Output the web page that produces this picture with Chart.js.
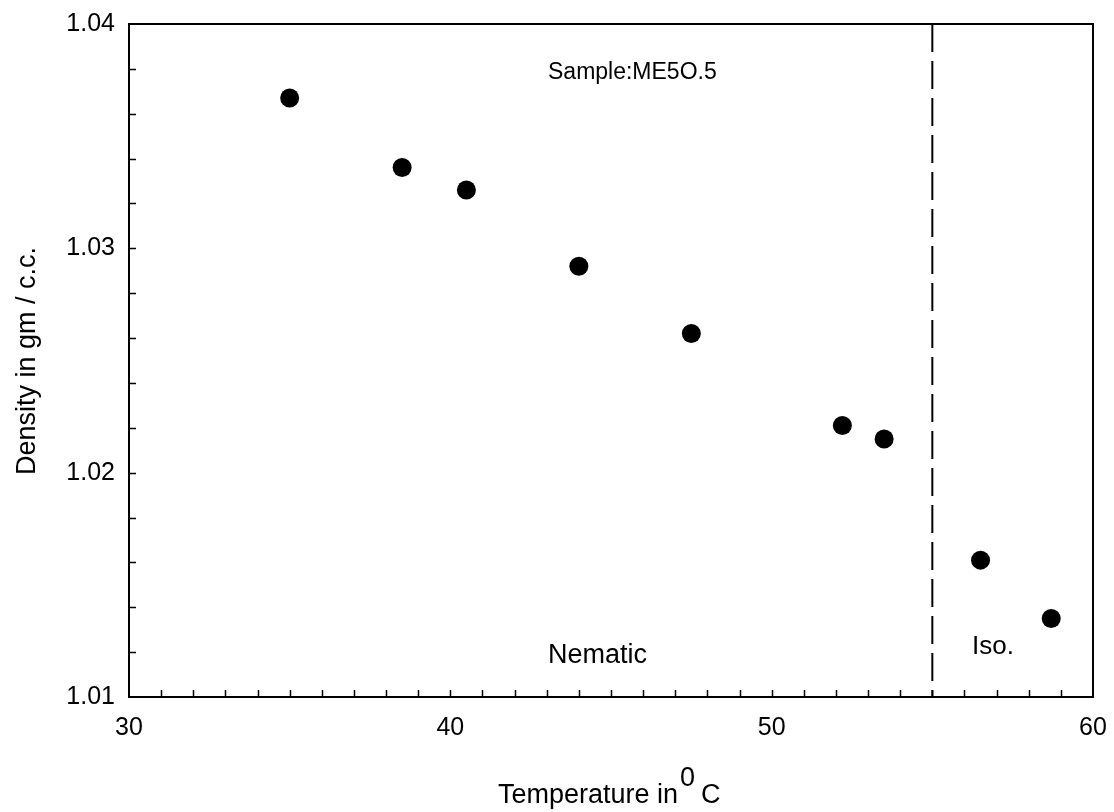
<!DOCTYPE html>
<html>
<head>
<meta charset="utf-8">
<script src="https://cdn.jsdelivr.net/npm/chart.js@4.4.1/dist/chart.umd.min.js"></script>
<style>
  html, body { margin: 0; padding: 0; background: #fff; }
  #wrap { width: 1114px; height: 812px; }
</style>
</head>
<body>
<div id="wrap"><canvas id="c" width="1114" height="812"></canvas></div>
<script>
// ---- data ----
const temperatures = [35.0, 38.5, 40.5, 44.0, 47.5, 52.2, 53.5, 56.5, 58.7];
const densities    = [1.0367, 1.0336, 1.0326, 1.0292, 1.0262, 1.0221, 1.0215, 1.0161, 1.0135];
const xTickValues  = [30, 40, 50, 60];
const yTickValues  = [1.01, 1.02, 1.03, 1.04];
const transitionTemp = 55;
const sampleLabel  = 'Sample:ME5O.5';
const phaseLabels  = ['Nematic', 'Iso.'];
const xTitle = 'Temperature in';
const xTitleSup = '0';
const xTitleUnit = 'C';
const yTitle = 'Density in gm / c.c.';

const FONT = '"Liberation Sans", Arial, sans-serif';

const points = temperatures.map((t, i) => ({ x: t, y: densities[i] }));

const decor = {
  id: 'decor',
  afterDatasetsDraw(chart) {
    const { ctx, chartArea: a, scales: { x, y } } = chart;
    ctx.save();
    // frame
    ctx.strokeStyle = '#000';
    ctx.lineWidth = 2;
    ctx.strokeRect(a.left, a.top, a.right - a.left, a.bottom - a.top);
    // inward ticks x (every 1)
    ctx.lineWidth = 1.5;
    ctx.beginPath();
    for (let v = 31; v < 60; v++) {
      const px = Math.round(x.getPixelForValue(v)) + 0.5;
      ctx.moveTo(px, a.bottom);
      ctx.lineTo(px, a.bottom - 7);
    }
    // inward ticks y (every 0.002)
    for (let k = 1; k < 15; k++) {
      const v = 1.01 + k * 0.002;
      const py = Math.round(y.getPixelForValue(v)) + 0.5;
      ctx.moveTo(a.left, py);
      ctx.lineTo(a.left + 7, py);
    }
    ctx.stroke();
    // dashed transition line
    const tx = x.getPixelForValue(transitionTemp);
    ctx.lineWidth = 2;
    ctx.setLineDash([28, 9]);
    ctx.beginPath();
    ctx.moveTo(tx, a.top);
    ctx.lineTo(tx, a.bottom);
    ctx.stroke();
    ctx.setLineDash([]);
    // annotations
    ctx.fillStyle = '#000';
    ctx.textBaseline = 'alphabetic';
    ctx.textAlign = 'left';
    ctx.font = '23px ' + FONT;
    ctx.fillText(sampleLabel, 548, 79);
    ctx.font = '27px ' + FONT;
    ctx.fillText(phaseLabels[0], 548, 663);
    ctx.font = '26px ' + FONT;
    ctx.fillText(phaseLabels[1], 972, 654);
    // x title with superscript
    ctx.font = '27px ' + FONT;
    const w1 = ctx.measureText(xTitle).width;
    const w2 = ctx.measureText(xTitleSup).width;
    const startX = 498;
    ctx.fillText(xTitle, startX, 803);
    ctx.fillText(xTitleSup, startX + w1 + 2, 786);
    ctx.fillText(xTitleUnit, startX + w1 + w2 + 8, 803);
    // y title
    ctx.translate(35, 361);
    ctx.rotate(-Math.PI / 2);
    ctx.textAlign = 'center';
    ctx.fillText(yTitle, 0, 0);
    ctx.restore();
  }
};

new Chart(document.getElementById('c'), {
  type: 'scatter',
  data: {
    datasets: [{
      data: points,
      pointRadius: 9.5,
      pointHoverRadius: 9.5,
      pointBackgroundColor: '#000',
      pointBorderWidth: 0,
      showLine: false
    }]
  },
  options: {
    responsive: false,
    animation: false,
    events: [],
    layout: { padding: { left: 0, top: 24, right: 21, bottom: 0 } },
    plugins: { legend: { display: false }, tooltip: { enabled: false } },
    scales: {
      x: {
        type: 'linear',
        min: 30, max: 60,
        afterBuildTicks: s => { s.ticks = xTickValues.map(v => ({ value: v })); },
        grid: { display: false, drawTicks: false },
        border: { display: false },
        ticks: { color: '#000', font: { family: FONT, size: 25 }, padding: 16, maxRotation: 0 },
        afterFit: s => { s.height = 115; s.paddingLeft = 0; s.paddingRight = 0; }
      },
      y: {
        type: 'linear',
        min: 1.01, max: 1.04,
        afterBuildTicks: s => { s.ticks = yTickValues.map(v => ({ value: v })); },
        grid: { display: false, drawTicks: false },
        border: { display: false },
        ticks: { color: '#000', font: { family: FONT, size: 25 }, padding: 14,
                 callback: v => v.toFixed(2) },
        afterFit: s => { s.width = 129; s.paddingTop = 0; s.paddingBottom = 0; }
      }
    }
  },
  plugins: [decor]
});
</script>
</body>
</html>
